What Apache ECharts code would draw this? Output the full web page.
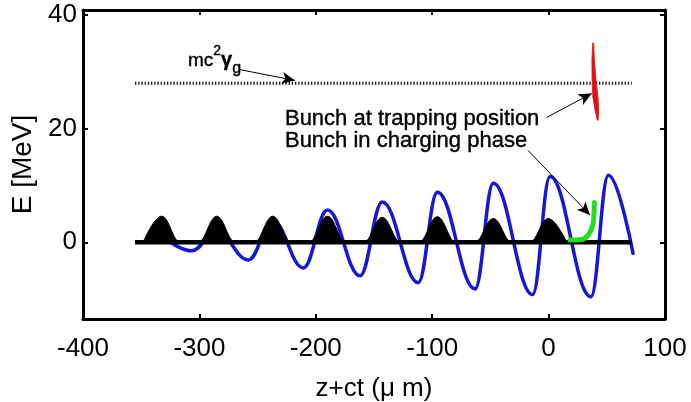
<!DOCTYPE html>
<html><head><meta charset="utf-8">
<script src="https://cdn.jsdelivr.net/npm/echarts@6/dist/echarts.min.js"></script>
<style>html,body{margin:0;padding:0;background:#fff}#c{width:691px;height:402px}</style>
</head><body><div id="c"></div>
<script>
// ---- data ----
const xTicks = [-400, -300, -200, -100, 0, 100];
const yTicks = [0, 20, 40];

// blue field curve: start, successive extrema, end
const waveX = [-325, -306.7, -285, -258, -237, -210.7, -190, -162, -142.9, -112, -95.6, -63.2, -47.5, -13.7, 1.2, 36.4, 51.3, 72.8];
const waveY = [0, -1.5, 2.0, -3.1, 3.8, -4.5, 5.7, -5.9, 7.1, -7.1, 8.8, -8.2, 10.4, -9.2, 11.6, -9.6, 11.8, -2.2];

// black bunches: centre, peak height, half base width
const bunchCenters = [-332.4, -285.1, -237, -190, -142.9, -95.6, -47.5, -0.3];
const bunchPeaks = [4.6, 4.6, 4.6, 4.6, 4.4, 4.5, 4.2, 4.2];
const bunchHalfWidth = [16, 16, 16, 16, 16, 16, 16, 16];

// black axis line at E = 0
const baseX = [-355.3, 71.4];
const baseY = [0, 0];

// dotted mc^2 gamma_g level
const gammaX = [-355.3, 71.5];
const gammaY = [28.0, 28.0];

// green bunch (charging phase)
const greenX = [18.4, 28.4, 34.1, 37.9, 39.0, 39.3];
const greenY = [0.4, 0.5, 1.3, 3.0, 5.1, 7.0];

// red bunch (trapping position) outline
const redX = [37.9, 37.2, 37.4, 38.0, 39.9, 41.8, 42.6, 43.0, 42.4, 40.8, 39.3, 38.7];
const redY = [35.1, 32.1, 28.5, 25.6, 23.3, 21.5, 21.5, 23.3, 25.6, 28.5, 32.1, 35.1];

// annotations
const noteText = ['Bunch at trapping position', 'Bunch in charging phase'];
const noteX = [-226.5, -226.5];
const noteY = [21.8, 17.9];
const gammaLabelPos = [-309.8, 32.0];
const arrowFrom = [[-265.1, 30.4], [-1.6, 22.0], [-17.7, 16.2]];
const arrowTo = [[-217.9, 28.5], [37.0, 26.2], [35.6, 4.8]];

// ---- build ----
const FONT = 'Liberation Sans, Arial, Helvetica, sans-serif';
const zip = (a, b) => a.map((v, i) => [v, b[i]]);

const bunchData = [];
bunchCenters.forEach((c, i) => {
  bunchData.push([c - bunchHalfWidth[i], 0], [c, bunchPeaks[i]], [c + bunchHalfWidth[i], 0]);
});

const chart = echarts.init(document.getElementById('c'), null, {renderer: 'canvas'});

const axisLine = {show: true, onZero: false, lineStyle: {color: '#000', width: 3}};
const axisTick = {show: true, inside: true, length: 5, lineStyle: {color: '#000', width: 2}};

const option = {
  animation: false,
  backgroundColor: '#fff',
  grid: {left: 83, right: 26, top: 10, bottom: 83, containLabel: false, outerBoundsMode: 'none'},
  xAxis: [
    {type: 'value', min: -400, max: 100, interval: 100, position: 'bottom',
     axisLine, axisTick,
     axisLabel: {color: '#000', fontSize: 26, fontFamily: FONT, margin: 17},
     splitLine: {show: false},
     name: 'z+ct (μ m)', nameLocation: 'middle', nameGap: 57,
     nameTextStyle: {color: '#000', fontSize: 26, fontFamily: FONT}},
    {type: 'value', min: -400, max: 100, interval: 100, position: 'top',
     axisLine, axisTick, axisLabel: {show: false}, splitLine: {show: false}}
  ],
  yAxis: [
    {type: 'value', min: -13.5, max: 40.9, position: 'left',
     axisLine, axisTick: Object.assign({}, axisTick, {customValues: yTicks}),
     axisLabel: {color: '#000', fontSize: 26, fontFamily: FONT, margin: 6, customValues: yTicks},
     splitLine: {show: false},
     name: 'E [MeV]', nameLocation: 'middle', nameGap: 42, nameRotate: 90,
     nameTextStyle: {color: '#000', fontSize: 28, fontFamily: FONT}},
    {type: 'value', min: -13.5, max: 40.9, position: 'right',
     axisLine, axisTick: Object.assign({}, axisTick, {customValues: yTicks}),
     axisLabel: {show: false}, splitLine: {show: false}}
  ],
  series: [
    {name: 'field', type: 'line', data: zip(waveX, waveY), smooth: 0.4, smoothMonotone: 'x', showSymbol: false,
     lineStyle: {color: '#1616d8', width: 3.5}, z: 2},
    {name: 'bunches', type: 'line', data: bunchData, smooth: 0.4, smoothMonotone: 'x', showSymbol: false,
     lineStyle: {color: '#000', width: 1}, areaStyle: {color: '#000', opacity: 1, origin: 0}, z: 3},
    {name: 'gamma', type: 'line', data: zip(gammaX, gammaY), showSymbol: false,
     lineStyle: {color: '#111', width: 3, type: [1.3, 1.9]}, z: 3},
    {name: 'base', type: 'line', data: zip(baseX, baseY), showSymbol: false,
     lineStyle: {color: '#000', width: 4.5}, z: 4},
    {name: 'charging', type: 'line', data: zip(greenX, greenY), smooth: 0.4, showSymbol: false,
     lineStyle: {color: '#22dd22', width: 5, cap: 'round'}, z: 5},
    {name: 'trapping', type: 'custom', z: 5,
     data: [0],
     renderItem: function (params, api) {
       const pts = redX.map((x, i) => api.coord([x, redY[i]]));
       return {type: 'polygon', shape: {points: pts}, style: {fill: '#e01010', stroke: '#e01010', lineWidth: 0.8}};
     }},
    {name: 'notes', type: 'scatter', symbolSize: 0, z: 6,
     itemStyle: {opacity: 1},
     data: noteText.map((t, i) => ({value: [noteX[i], noteY[i]], label: {formatter: t}}))
       .concat([{value: gammaLabelPos, label: {
         formatter: '{m|mc}{s|2}{g|γ}{b|g}',
         rich: {
           m: {fontSize: 19, lineHeight: 32, fontFamily: FONT, color: '#000'},
           s: {fontSize: 14, lineHeight: 14, verticalAlign: 'top', fontFamily: FONT, color: '#000'},
           g: {fontSize: 20, lineHeight: 32, fontFamily: FONT, color: '#000', fontWeight: 'bold'},
           b: {fontSize: 16, lineHeight: 16, verticalAlign: 'bottom', fontFamily: FONT, color: '#000'}
         }}}]),
     label: {show: true, position: 'right', distance: 0, color: '#000', fontSize: 22, fontFamily: FONT,
             textBorderColor: '#000', textBorderWidth: 0.4},
     markLine: {
       silent: true, animation: false,
       symbol: ['none', 'arrow'],
       label: {show: false},
       lineStyle: {color: '#000', width: 1, type: 'solid'},
       data: arrowFrom.map((f, i) => [
         {coord: f, symbol: 'none'},
         {coord: arrowTo[i], symbol: 'arrow', symbolSize: [9, 13]}
       ])
     }}
  ]
};
chart.setOption(option);
</script>
</body></html>
